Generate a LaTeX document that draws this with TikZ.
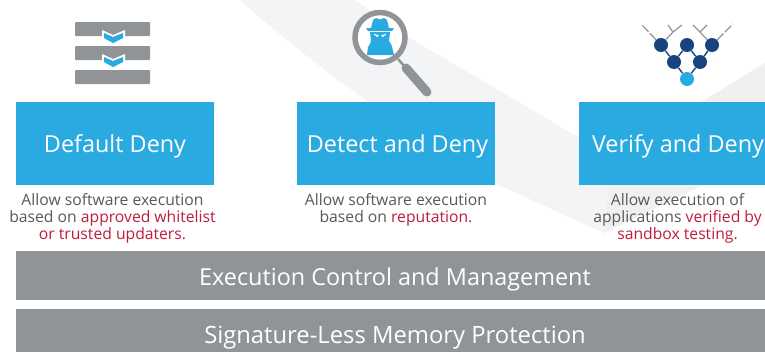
\documentclass[tikz,border=0pt]{standalone}
\usepackage{fontspec}
\setmainfont{Open Sans}
\definecolor{cy}{HTML}{29ABE2}
\definecolor{gb}{HTML}{919497}
\definecolor{nv}{HTML}{17447F}
\definecolor{rd}{HTML}{BE1E3C}
\definecolor{tx}{HTML}{58595B}
\definecolor{bgp}{HTML}{F3F4F6}
\definecolor{bgq}{HTML}{F0F0F0}
\tikzset{x=1pt,y=-1pt,
 blue box/.style={fill=cy,draw=none,minimum width=198pt,minimum height=83pt,inner sep=0pt,text=white,text height=17pt,text depth=0pt,font=\fontsize{23.4}{28}\selectfont},
 bar/.style={fill=gb,draw=none,minimum width=749pt,minimum height=49pt,inner sep=0pt,text=white,text height=20pt,text depth=0pt,font=\fontsize{23.4}{28}\selectfont},
 cap text/.style={align=center,text=tx,inner sep=0pt,font=\fontsize{15.7}{17}\selectfont},
 ictbar/.style={fill=gb,draw=none,rounded corners=1pt},
 blob/.style={circle,fill=nv,minimum size=14pt,inner sep=0pt},
 tw/.style={draw=gb,line width=1.2pt,dash pattern=on 9pt off 2pt}}
\begin{document}
\begin{tikzpicture}
\useasboundingbox (0,0) rectangle (765,351);
\fill[white] (0,0) rectangle (765,351);
\fill[bgp] (240,0) .. controls (285,40) and (330,75) .. (369,102) -- (499,185) -- (604,233) -- (611,157) -- (578,137) -- (413,40) -- (355,0) -- cycle;
\fill[bgq] (604,233) -- (765,155) -- (765,63) -- (611,157) -- cycle;
% left icon
\fill[ictbar] (75,22) rectangle (150,36);
\fill[ictbar] (75,46) rectangle (150,60);
\fill[ictbar] (75,70) rectangle (150,84);
\foreach \yy in {30,54}{
 \fill[white] (102,\yy) -- (113,\yy+5) -- (125,\yy) -- (125,\yy+8) -- (113,\yy+14) -- (102,\yy+8) -- cycle;
 \fill[cy] (104,\yy+3) -- (113,\yy+7) -- (123,\yy+3) -- (123,\yy+8) -- (113,\yy+13) -- (104,\yy+8) -- cycle;
}
% magnifier
\draw[gb,line width=2.5pt] (398,59) -- (405,67);
\draw[gb,line width=9pt,line cap=round] (406,68) -- (427,92);
\fill[white] (380,37.5) circle (25);
\draw[gb,line width=5.5pt] (380,37.5) circle (25);
\fill[cy] (371,28) -- (373,20) -- (376,18) -- (380,19.5) -- (384,18) -- (387,20) -- (389,28) -- cycle;
\fill[cy] (366,28) -- (394,28) -- (392,31) -- (368,31) -- cycle;
\fill[cy] (370,32) -- (390,32) -- (389,41) -- (391,44) -- (392,47) -- (394,55) -- (367,55) -- (368,47) -- (370,44) -- (371,41) -- cycle;
\fill[white] (373,33.5) -- (379,35.5) -- (377,37) -- cycle;
\fill[white] (387,33.5) -- (381,35.5) -- (383,37) -- cycle;
% tree
\coordinate (t1) at (641,24); \coordinate (t2) at (668,25); \coordinate (t3) at (682,25);
\coordinate (t4) at (693,25); \coordinate (t5) at (707,25); \coordinate (t6) at (733,24);
\coordinate (j1) at (673,32); \coordinate (j2) at (700,32);
\node[blob] (a) at (661,45) {};
\node[blob] (b) at (687,45) {};
\node[blob] (c) at (712,45) {};
\node[blob] (d) at (674,62) {};
\node[blob] (e) at (700,62) {};
\node[blob,fill=cy] (f) at (687,79) {};
\draw[nv,line width=1.4pt] (a)--(d) (b)--(d) (b)--(e) (c)--(e) (d)--(f) (e)--(f);
\draw[tw] (a)--(t1) (c)--(t6);
\draw[draw=gb,line width=1.2pt] (a)--(j1) (j1)--(t2) (j1)--(t3) (c)--(j2) (j2)--(t4) (j2)--(t5);
% boxes
\node[blue box] (n1) at (115,143.5) {Default Deny};
\node[blue box] (n2) at (396,143.5) {\hspace*{3pt}Detect and Deny};
\node[blue box] (n3) at (678,143.5) {Verify and Deny};
\node[cap text] (c1) at (112.5,218) {Allow software execution\\based on \textcolor{rd}{approved whitelist}\\\textcolor{rd}{or trusted updaters.}};
\node[cap text] (c2) at (396,209.5) {Allow software execution\\based on \textcolor{rd}{reputation.}};
\node[cap text] (c3) at (677.5,218) {Allow execution of\\applications \textcolor{rd}{verified by}\\\textcolor{rd}{sandbox testing.}};
\node[bar] (b1) at (390.5,275.5) {\makebox[0pt]{\hspace*{9pt}Execution Control and Management}};
\node[bar,text height=19pt,font=\fontsize{23.8}{28}\selectfont] (b2) at (390.5,333.5) {\makebox[0pt]{\hspace*{9pt}Signature-Less Memory Protection}};
\end{tikzpicture}
\end{document}
